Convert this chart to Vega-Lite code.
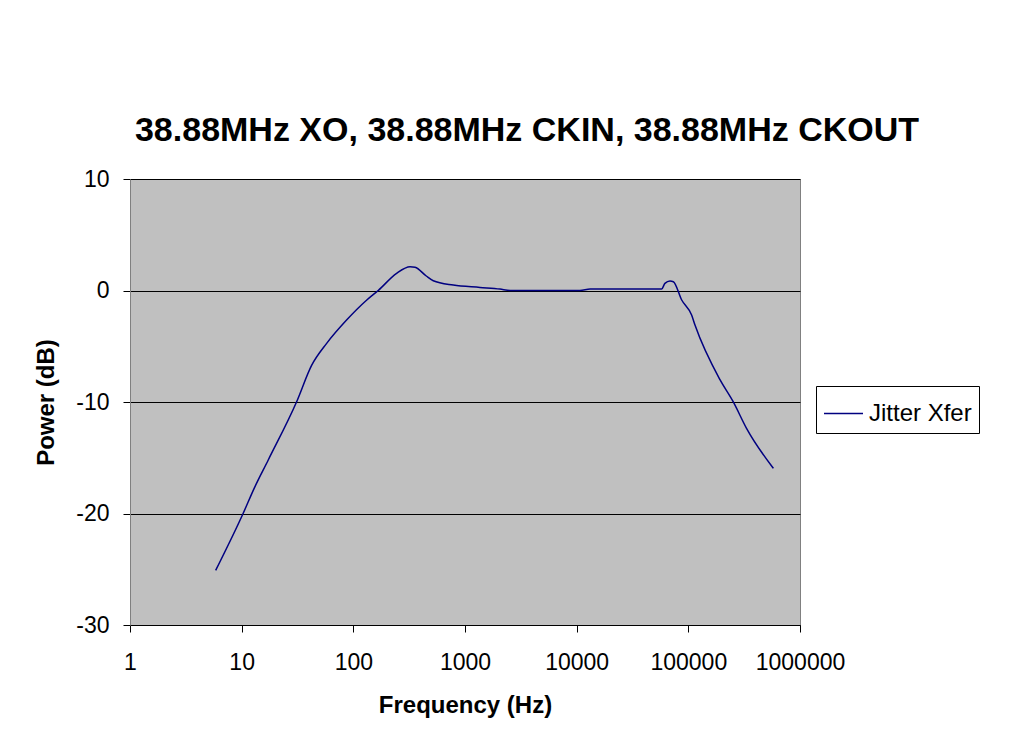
{
  "$schema": "https://vega.github.io/schema/vega-lite/v6.json",
  "autosize": "none",
  "width": 670,
  "height": 446,
  "padding": {"left": 130, "top": 179, "right": 230, "bottom": 113},
  "background": "white",
  "title": {
    "text": "38.88MHz XO, 38.88MHz CKIN, 38.88MHz CKOUT",
    "font": "Liberation Sans",
    "fontSize": 34,
    "fontWeight": "bold",
    "color": "black",
    "anchor": "middle",
    "baseline": "alphabetic",
    "offset": 36,
    "dx": 62,
    "dy": 43
  },
  "data": {
    "values": [
      {"f": 5.85, "db": -25.1, "s": "Jitter Xfer"},
      {"f": 10.3, "db": -20.0, "s": "Jitter Xfer"},
      {"f": 13, "db": -17.7, "s": "Jitter Xfer"},
      {"f": 17.3, "db": -15.2, "s": "Jitter Xfer"},
      {"f": 31, "db": -10.0, "s": "Jitter Xfer"},
      {"f": 42.4, "db": -6.7, "s": "Jitter Xfer"},
      {"f": 57.7, "db": -4.74, "s": "Jitter Xfer"},
      {"f": 87, "db": -2.65, "s": "Jitter Xfer"},
      {"f": 132, "db": -0.85, "s": "Jitter Xfer"},
      {"f": 167, "db": 0, "s": "Jitter Xfer"},
      {"f": 244, "db": 1.54, "s": "Jitter Xfer"},
      {"f": 322, "db": 2.13, "s": "Jitter Xfer"},
      {"f": 357, "db": 2.08, "s": "Jitter Xfer"},
      {"f": 450, "db": 1.3, "s": "Jitter Xfer"},
      {"f": 520, "db": 0.88, "s": "Jitter Xfer"},
      {"f": 785, "db": 0.49, "s": "Jitter Xfer"},
      {"f": 1362, "db": 0.28, "s": "Jitter Xfer"},
      {"f": 2057, "db": 0.13, "s": "Jitter Xfer"},
      {"f": 2530, "db": 0, "s": "Jitter Xfer"},
      {"f": 10700, "db": 0, "s": "Jitter Xfer"},
      {"f": 13200, "db": 0.13, "s": "Jitter Xfer"},
      {"f": 57700, "db": 0.13, "s": "Jitter Xfer"},
      {"f": 61700, "db": 0.64, "s": "Jitter Xfer"},
      {"f": 68500, "db": 0.85, "s": "Jitter Xfer"},
      {"f": 73400, "db": 0.79, "s": "Jitter Xfer"},
      {"f": 87200, "db": -0.85, "s": "Jitter Xfer"},
      {"f": 107000, "db": -2.2, "s": "Jitter Xfer"},
      {"f": 114700, "db": -3.1, "s": "Jitter Xfer"},
      {"f": 192000, "db": -8.0, "s": "Jitter Xfer"},
      {"f": 252000, "db": -9.97, "s": "Jitter Xfer"},
      {"f": 332000, "db": -12.36, "s": "Jitter Xfer"},
      {"f": 577000, "db": -15.95, "s": "Jitter Xfer"}
    ]
  },
  "mark": {"type": "line", "interpolate": "monotone", "strokeWidth": 1.5, "clip": true},
  "encoding": {
    "x": {
      "field": "f",
      "type": "quantitative",
      "scale": {"type": "log", "domain": [1, 1000000], "nice": false},
      "axis": {
        "title": "Frequency (Hz)",
        "values": [1, 10, 100, 1000, 10000, 100000, 1000000],
        "format": "d",
        "grid": false,
        "tickSize": 7,
        "tickColor": "black",
        "domainColor": "black",
        "labelBaseline": "alphabetic",
        "labelPadding": 37,
        "labelFlush": false,
        "labelFontSize": 23,
        "labelFont": "Liberation Sans",
        "labelColor": "black",
        "titleFont": "Liberation Sans",
        "titleFontSize": 24,
        "titleFontWeight": "bold",
        "titleColor": "black",
        "titleBaseline": "alphabetic",
        "titleY": 87,
        "titleX": 335
      }
    },
    "y": {
      "field": "db",
      "type": "quantitative",
      "scale": {"domain": [-30, 10], "nice": false, "zero": false},
      "axis": {
        "title": "Power (dB)",
        "values": [-30, -20, -10, 0, 10],
        "labelExpr": "'' + datum.value",
        "grid": true,
        "gridColor": "black",
        "gridWidth": 1,
        "tickSize": 7,
        "tickColor": "black",
        "domainColor": "#808080",
        "labelPadding": 14,
        "labelFontSize": 23,
        "labelFont": "Liberation Sans",
        "labelColor": "black",
        "labelBaseline": "middle",
        "titleFont": "Liberation Sans",
        "titleFontSize": 24,
        "titleFontWeight": "bold",
        "titleColor": "black",
        "titleAngle": -90,
        "titleBaseline": "middle",
        "titleAlign": "center",
        "titleX": -84,
        "titleY": 223
      }
    },
    "color": {
      "field": "s",
      "type": "nominal",
      "scale": {"range": ["#000080"]},
      "legend": {
        "title": null,
        "orient": "none",
        "legendX": 686,
        "legendY": 207,
        "symbolType": "stroke",
        "symbolSize": 1521,
        "symbolStrokeWidth": 1.5,
        "labelFont": "Liberation Sans",
        "labelFontSize": 24,
        "labelColor": "black",
        "labelOffset": 5,
        "padding": 7,
        "strokeColor": "black",
        "fillColor": "white"
      }
    }
  },
  "config": {
    "view": {"fill": "#C0C0C0", "stroke": "#808080", "strokeWidth": 1}
  }
}
